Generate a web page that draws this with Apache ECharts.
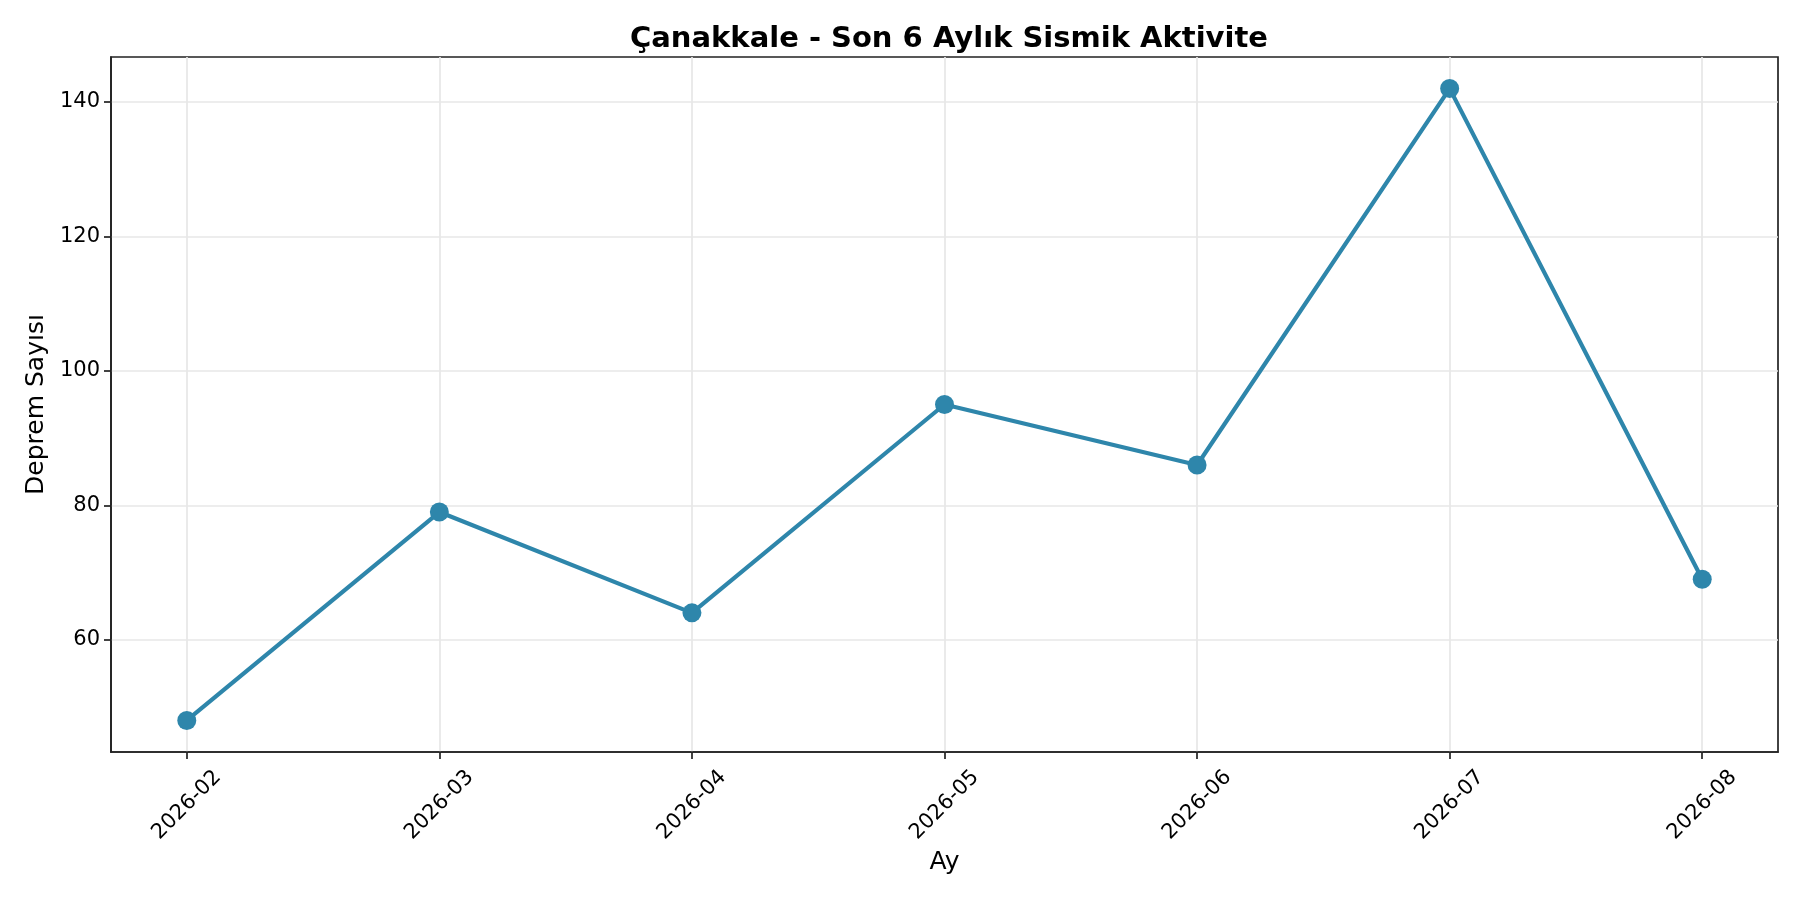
<!DOCTYPE html>
<html>
<head>
    <meta charset="utf-8">
    <title>Çanakkale - Sismik Aktivite</title>
    <script src="https://cdn.jsdelivr.net/npm/echarts@6/dist/echarts.min.js"></script>
    <style>
        html, body { margin: 0; padding: 0; background: #fff; }
        #chart { width: 1800px; height: 900px; }
    </style>
</head>
<body>
<div id="chart"></div>
<script>
    // monthly earthquake counts
    var months = ['2026-02', '2026-03', '2026-04', '2026-05', '2026-06', '2026-07', '2026-08'];
    var counts = [48, 79, 64, 95, 86, 142, 69];
    var yTicks = [60, 80, 100, 120, 140];

    var xTicks = months.map(function (m, i) { return i; });
    var points = counts.map(function (v, i) { return [i, v]; });

    // matplotlib-style 5% margins
    var yMin = Math.min.apply(null, counts), yMax = Math.max.apply(null, counts);
    var yPad = (yMax - yMin) * 0.05;
    var xPad = (months.length - 1) * 0.05;

    var font = 'DejaVu Sans';
    var gridColor = '#e7e7e7';
    var spine = { show: true, onZero: false, lineStyle: { color: '#222', width: 1.7 } };

    var myChart = echarts.init(document.getElementById('chart'));
    myChart.setOption({
        animation: false,
        backgroundColor: '#fff',
        title: {
            text: 'Çanakkale - Son 6 Aylık Sismik Aktivite',
            left: 944, top: 20, textAlign: 'center',
            textStyle: { fontFamily: font, fontSize: 29, fontWeight: 'bold', color: '#000' }
        },
        grid: { left: 111, right: 22, top: 57, bottom: 148, show: true, borderColor: '#222', borderWidth: 1.7 },
        xAxis: {
            type: 'value',
            min: -xPad, max: months.length - 1 + xPad,
            name: 'Ay', nameLocation: 'middle', nameGap: 97,
            nameTextStyle: { fontFamily: font, fontSize: 25, color: '#000' },
            axisLine: spine,
            axisTick: { show: true, length: 7, lineStyle: { color: '#222', width: 1.7 }, customValues: xTicks },
            axisLabel: {
                customValues: xTicks,
                formatter: function (v) { return months[Math.round(v)] || ''; },
                rotate: 45, align: 'center', verticalAlign: 'middle', margin: 53,
                fontFamily: font, fontSize: 21, color: '#000'
            },
            splitLine: { show: true, lineStyle: { color: gridColor, width: 1.7 } }
        },
        yAxis: {
            type: 'value',
            min: yMin - yPad, max: yMax + yPad,
            name: 'Deprem Sayısı', nameLocation: 'middle', nameGap: 61,
            nameTextStyle: { fontFamily: font, fontSize: 25, color: '#000' },
            axisLine: spine,
            axisTick: { show: true, length: 7, lineStyle: { color: '#222', width: 1.7 }, customValues: yTicks },
            axisLabel: {
                customValues: yTicks, margin: 11,
                fontFamily: font, fontSize: 21, color: '#000'
            },
            splitLine: { show: true, lineStyle: { color: gridColor, width: 1.7 } }
        },
        series: [{
            type: 'line',
            data: points,
            symbol: 'circle',
            symbolSize: 19,
            lineStyle: { color: '#2E86AB', width: 4.2 },
            itemStyle: { color: '#2E86AB' },
            z: 5
        }]
    });
</script>
</body>
</html>
